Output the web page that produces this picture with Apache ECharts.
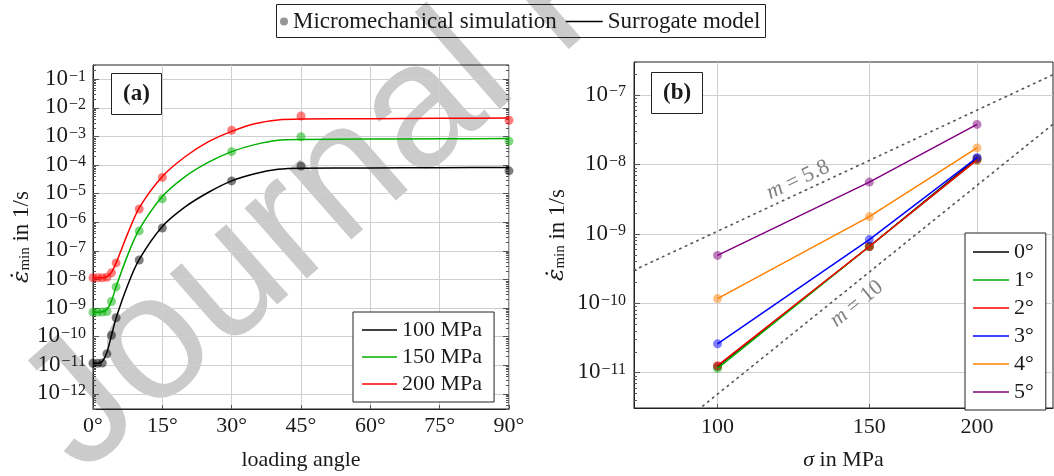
<!DOCTYPE html>
<html><head><meta charset="utf-8">
<script src="https://cdn.jsdelivr.net/npm/echarts@6/dist/echarts.min.js"></script>
<style>html,body{margin:0;padding:0;background:#fff}#c{width:1054px;height:476px}</style>
</head><body><div id="c"></div>
<script>
// ---------- data ----------
const anglesSim = [0, 1, 2, 3, 4, 5, 10, 15, 30, 45, 90];
const sim100 = [1.17e-11, 1.17e-11, 1.2e-11, 2.5e-11, 1.12e-10, 4.6e-10, 4.8e-8, 6.3e-7, 2.8e-5, 9.3e-5, 6.3e-5];
const sim150 = [7.2e-10, 7.2e-10, 7.3e-10, 7.6e-10, 1.7e-9, 5.5e-9, 5.0e-7, 6.6e-6, 2.95e-4, 9.8e-4, 6.9e-4];
const sim200 = [1.15e-8, 1.15e-8, 1.15e-8, 1.2e-8, 1.7e-8, 3.8e-8, 2.9e-6, 3.7e-5, 1.66e-3, 5.2e-3, 3.7e-3];

const anglesModel = [0, 1, 2, 3, 4, 5, 7.5, 10, 15, 20, 25, 30, 35, 40, 45, 60, 75, 90];
const model100 = [1.17e-11, 1.17e-11, 1.35e-11, 2.8e-11, 1.12e-10, 4.5e-10, 6.3e-9, 5.0e-8, 7.1e-7, 3.5e-6, 1.12e-5, 2.8e-5, 5.0e-5, 7.1e-5, 7.8e-5, 7.9e-5, 8.1e-5, 8.3e-5];
const model150 = [7.2e-10, 7.2e-10, 7.4e-10, 8.9e-10, 1.78e-9, 5.6e-9, 7.1e-8, 5.6e-7, 7.9e-6, 4.0e-5, 1.26e-4, 2.95e-4, 5.2e-4, 7.4e-4, 7.9e-4, 8.1e-4, 8.3e-4, 8.5e-4];
const model200 = [1.15e-8, 1.15e-8, 1.15e-8, 1.26e-8, 1.78e-8, 3.8e-8, 4.0e-7, 3.2e-6, 4.0e-5, 2.0e-4, 6.6e-4, 1.51e-3, 2.8e-3, 3.8e-3, 4.1e-3, 4.2e-3, 4.3e-3, 4.4e-3];

const stresses = [100, 150, 200];
const rate0 = [1.23e-11, 6.6e-10, 1.23e-8];
const rate1 = [1.15e-11, 6.6e-10, 1.17e-8];
const rate2 = [1.26e-11, 6.6e-10, 1.17e-8];
const rate3 = [2.6e-11, 8.3e-10, 1.26e-8];
const rate4 = [1.17e-10, 1.78e-9, 1.74e-8];
const rate5 = [4.9e-10, 5.6e-9, 3.8e-8];

// reference power-law guides (end points)
const guideM58 = [[80, 3.0e-10], [245, 1.98e-7]];
const guideM10 = [[80, 5.26e-13], [245, 3.82e-8]];
const guideLabels = ['m = 5.8', 'm = 10'];
const guideLabelAt = [[124, 6.0e-9], [145, 9.8e-11]];

const stressTicks = [100, 150, 200];
const decadesA = [-12, -11, -10, -9, -8, -7, -6, -5, -4, -3, -2, -1];
const decadesB = [-11, -10, -9, -8, -7];
const stressLegend = ['100 MPa', '150 MPa', '200 MPa'];
const angleLegend = ['0°', '1°', '2°', '3°', '4°', '5°'];

// ---------- styling ----------
const FONT = '"Liberation Serif", "DejaVu Serif", serif';
const FS = 22;
const TXT = '#1a1a1a';
const AXC = '#222';
const GRIDC = '#cfcfcf';
const cA = ['#000000', '#00b000', '#ff0000'];
const cB = ['#000000', '#00b000', '#ff0000', '#0000ff', '#ff8000', '#800080'];

const zip = (xs, ys) => xs.map((x, i) => [x, ys[i]]);
const pow10 = e => Math.pow(10, e);
const majorA = decadesA.map(pow10), majorB = decadesB.map(pow10);
function minorVals(lo, hi) { const r = []; for (let e = lo; e <= hi; e++) for (let k = 2; k <= 9; k++) r.push(k * pow10(e)); return r; }
const minorA = minorVals(-13, -1), minorB = minorVals(-12, -7);

const yMinA = pow10(-12.53), yMaxA = pow10(-0.5);
const yMinB = pow10(-11.51), yMaxB = pow10(-6.52);

function powLabel(v) { const e = Math.round(Math.log10(v)); return '{b|10}{s|' + (e < 0 ? '\u2212' : '') + Math.abs(e) + '}'; }
const powRich = {
  b: { fontSize: 23, fontFamily: FONT, color: TXT, lineHeight: 22, verticalAlign: 'bottom' },
  s: { fontSize: 16, fontFamily: FONT, color: TXT, lineHeight: 16, padding: [0, 0, 10, 1], verticalAlign: 'top' }
};
const nameRichY = {
  e: { fontSize: 23, fontFamily: '"DejaVu Serif", serif', fontStyle: 'italic', color: TXT, lineHeight: 22, verticalAlign: 'top' },
  m: { fontSize: 15, fontFamily: FONT, color: TXT, lineHeight: 15, padding: [11, 0, 0, 0], verticalAlign: 'bottom' },
  t: { fontSize: 23, fontFamily: FONT, color: TXT, lineHeight: 22, verticalAlign: 'top' }
};

function logY(grid, extra) {
  return Object.assign({
    gridIndex: grid, type: 'log', logBase: 10,
    axisLine: { show: false },
    axisLabel: { show: false },
    splitLine: { show: false },
    axisTick: { show: false }
  }, extra);
}
function tickY(grid, pos, vals, len, min, max) {
  return logY(grid, { position: pos, min: min, max: max,
    axisTick: { show: true, inside: true, length: len, customValues: vals, lineStyle: { color: '#555', width: 1 } } });
}

const series = [];
// dummy series for the shared top legend (no marks)
series.push({ name: 'Micromechanical simulation', type: 'scatter', xAxisIndex: 0, yAxisIndex: 0, data: [], symbolSize: 8, itemStyle: { color: '#7a7a7a' } });
series.push({ name: 'Surrogate model', type: 'line', xAxisIndex: 0, yAxisIndex: 0, data: [], symbol: 'none', lineStyle: { color: '#000', width: 1.5 }, itemStyle: { color: '#000' } });

// panel (a)
[sim100, sim150, sim200].forEach((d, i) => series.push({
  name: stressLegend[i] + ' sim', type: 'scatter', xAxisIndex: 0, yAxisIndex: 0,
  data: zip(anglesSim, d), symbolSize: 9, itemStyle: { color: cA[i], opacity: 0.5 }, z: 3
}));
[model100, model150, model200].forEach((d, i) => series.push({
  name: stressLegend[i], type: 'line', xAxisIndex: 0, yAxisIndex: 0,
  data: zip(anglesModel, d), symbol: 'none', smooth: 0.25,
  lineStyle: { color: cA[i], width: 1.5 }, itemStyle: { color: cA[i] }, z: 4
}));

// panel (b)
series.push({ name: 'guide58', type: 'line', xAxisIndex: 1, yAxisIndex: 4, data: guideM58, symbol: 'none', silent: true,
  lineStyle: { color: '#555', width: 1.6, type: [1.5, 4.8], cap: 'round' }, z: 2 });
series.push({ name: 'guide10', type: 'line', xAxisIndex: 1, yAxisIndex: 4, data: guideM10, symbol: 'none', silent: true,
  lineStyle: { color: '#555', width: 1.6, type: [1.5, 4.8], cap: 'round' }, z: 2 });
const ratesB = [rate0, rate1, rate2, rate3, rate4, rate5];
ratesB.forEach((d, i) => series.push({
  name: angleLegend[i] + ' sim', type: 'scatter', xAxisIndex: 1, yAxisIndex: 4,
  data: zip(stresses, d), symbolSize: 9, itemStyle: { color: cB[i], opacity: 0.5 }, z: 3
}));
ratesB.forEach((d, i) => series.push({
  name: angleLegend[i], type: 'line', xAxisIndex: 1, yAxisIndex: 4,
  data: zip(stresses, d), symbol: 'none',
  lineStyle: { color: cB[i], width: 1.5 }, itemStyle: { color: cB[i] }, z: 4
}));

const legendText = { fontSize: FS, fontFamily: FONT, color: TXT, lineHeight: 21 };
const topFS = 23;
const topText = { fontSize: topFS, fontFamily: FONT, color: TXT, lineHeight: 21 };

// top legend geometry from text widths
const mctx = document.createElement('canvas').getContext('2d');
mctx.font = topFS + 'px ' + FONT;
const w1 = mctx.measureText('Micromechanical simulation').width;
const w2 = mctx.measureText('Surrogate model').width;
const totalW = 4 + 8 + 5 + w1 + 9 + 37 + 5 + w2 + 5;
const boxL = Math.round(521 - totalW / 2);
const leg1L = boxL + 4, leg2L = leg1L + 8 + 5 + w1 + 9;

const yLabelCommon = { show: true, formatter: powLabel, rich: powRich, showMinLabel: true, showMaxLabel: true, hideOverlap: false };

const option = {
  backgroundColor: '#fff',
  animation: false,
  textStyle: { fontFamily: FONT },
  title: [
    { text: '(a)', left: 111, top: 74, padding: [9, 12, 9, 12], borderWidth: 1, borderColor: AXC, backgroundColor: '#fff',
      textStyle: { fontSize: 23, fontWeight: 'bold', fontFamily: FONT, color: TXT, lineHeight: 22 } },
    { text: '(b)', left: 651, top: 73, padding: [9, 12, 9, 12], borderWidth: 1, borderColor: AXC, backgroundColor: '#fff',
      textStyle: { fontSize: 23, fontWeight: 'bold', fontFamily: FONT, color: TXT, lineHeight: 22 } }
  ],
  legend: [
    { data: ['Micromechanical simulation'], left: leg1L, top: 10, padding: 0, itemWidth: 8, itemHeight: 8,
      textStyle: topText, selectedMode: false },
    { data: ['Surrogate model'], left: leg2L, top: 10, padding: 0, itemWidth: 37, itemHeight: 1.5, icon: 'rect',
      textStyle: topText, selectedMode: false },
    { data: stressLegend, orient: 'vertical', left: 353, top: 312, padding: [7, 12, 7, 9], itemWidth: 35, itemHeight: 1.5, itemGap: 5, icon: 'rect',
      borderColor: AXC, borderWidth: 1, backgroundColor: '#fff', textStyle: legendText, selectedMode: false },
    { data: angleLegend, orient: 'vertical', left: 965, top: 233, padding: [8, 12, 7, 8], itemWidth: 36, itemHeight: 1.5, itemGap: 6, icon: 'rect',
      borderColor: AXC, borderWidth: 1, backgroundColor: '#fff', textStyle: legendText, selectedMode: false }
  ],
  grid: [
    { left: 93, top: 65, width: 416, height: 345, show: true, borderColor: AXC, borderWidth: 1, backgroundColor: 'transparent' },
    { left: 634, top: 62, width: 419, height: 352, show: true, borderColor: AXC, borderWidth: 1, backgroundColor: 'transparent' }
  ],
  xAxis: [
    { gridIndex: 0, type: 'value', min: 0, max: 90, interval: 15,
      axisLine: { lineStyle: { color: AXC, width: 1 } },
      axisTick: { inside: true, length: 4, lineStyle: { color: '#555' } },
      axisLabel: { formatter: '{value}°', fontSize: FS, fontFamily: FONT, color: TXT, margin: 6, showMinLabel: true, showMaxLabel: true },
      splitLine: { show: true, lineStyle: { color: GRIDC, width: 1 } },
      name: 'loading angle', nameLocation: 'middle', nameGap: 40,
      nameTextStyle: { fontSize: FS, fontFamily: FONT, color: TXT } },
    { gridIndex: 1, type: 'log', logBase: 10, min: 80, max: 245,
      axisLine: { lineStyle: { color: AXC, width: 1 } },
      axisTick: { inside: true, length: 4, customValues: stressTicks, lineStyle: { color: '#555' } },
      axisLabel: { customValues: stressTicks, formatter: v => String(Math.round(v)), fontSize: FS, fontFamily: FONT, color: TXT, margin: 8 },
      splitLine: { show: true, lineStyle: { color: GRIDC, width: 1 } },
      name: '{i|σ}{t| in MPa}', nameLocation: 'middle', nameGap: 41,
      nameTextStyle: { rich: { i: { fontSize: FS, fontStyle: 'italic', fontFamily: FONT, color: TXT }, t: { fontSize: FS, fontFamily: FONT, color: TXT } } } }
  ],
  yAxis: [
    logY(0, { position: 'left', min: yMinA, max: yMaxA,
      axisLine: { show: true, lineStyle: { color: AXC, width: 1 } },
      axisTick: { show: true, inside: true, length: 6, customValues: majorA, lineStyle: { color: '#555' } },
      axisLabel: Object.assign({ customValues: majorA, margin: 7 }, yLabelCommon),
      splitLine: { show: true, lineStyle: { color: GRIDC, width: 1 } },
      name: '{e|\u03b5\u0307}{m|min}{t| in 1/s}', nameLocation: 'middle', nameGap: 58, nameRotate: 90,
      nameTextStyle: { rich: nameRichY } }),
    tickY(0, 'left', minorA, 3, yMinA, yMaxA),
    tickY(0, 'right', majorA, 6, yMinA, yMaxA),
    tickY(0, 'right', minorA, 3, yMinA, yMaxA),
    logY(1, { position: 'left', min: yMinB, max: yMaxB,
      axisLine: { show: true, lineStyle: { color: AXC, width: 1 } },
      axisTick: { show: true, inside: true, length: 6, customValues: majorB, lineStyle: { color: '#555' } },
      axisLabel: Object.assign({ customValues: majorB, margin: 8 }, yLabelCommon),
      splitLine: { show: true, lineStyle: { color: GRIDC, width: 1 } },
      name: '{e|\u03b5\u0307}{m|min}{t| in 1/s}', nameLocation: 'middle', nameGap: 66, nameRotate: 90,
      nameTextStyle: { rich: nameRichY } }),
    tickY(1, 'left', minorB, 3, yMinB, yMaxB)
  ],
  series: series,
  graphic: [
    { type: 'text', z: -10, silent: true, x: 108, y: 506, rotation: 0.72,
      style: { text: 'Journal Pre-proof', fontSize: 178, fontFamily: '"Liberation Sans", "DejaVu Sans", sans-serif', fill: '#cbcbcb', textVerticalAlign: 'bottom' } },
    { type: 'rect', z: 5, silent: true, shape: { x: boxL + 0.5, y: 4.5, width: Math.round(totalW), height: 33 },
      style: { fill: 'none', stroke: AXC, lineWidth: 1 } }
  ]
};

const chart = echarts.init(document.getElementById('c'));
chart.setOption(option);

// slope labels placed through the axes of panel (b)
const finder = { xAxisIndex: 1, yAxisIndex: 4 };
const guides = [guideM58, guideM10];
const extra = guides.map((g, i) => {
  const a = chart.convertToPixel(finder, g[0]);
  const b = chart.convertToPixel(finder, g[1]);
  const p = chart.convertToPixel(finder, guideLabelAt[i]);
  const rot = Math.atan2(-(b[1] - a[1]), b[0] - a[0]);
  const parts = guideLabels[i].split(' = ');
  return { type: 'text', z: 6, silent: true, x: p[0], y: p[1], rotation: rot,
    style: { text: '{i|' + parts[0] + '}{t| = ' + parts[1] + '}', align: 'center', verticalAlign: 'middle',
      rich: { i: { fontSize: FS, fontStyle: 'italic', fontFamily: FONT, fill: '#808080' },
              t: { fontSize: FS, fontFamily: FONT, fill: '#808080' } } } };
});
chart.setOption({ graphic: option.graphic.concat(extra) });
</script></body></html>
